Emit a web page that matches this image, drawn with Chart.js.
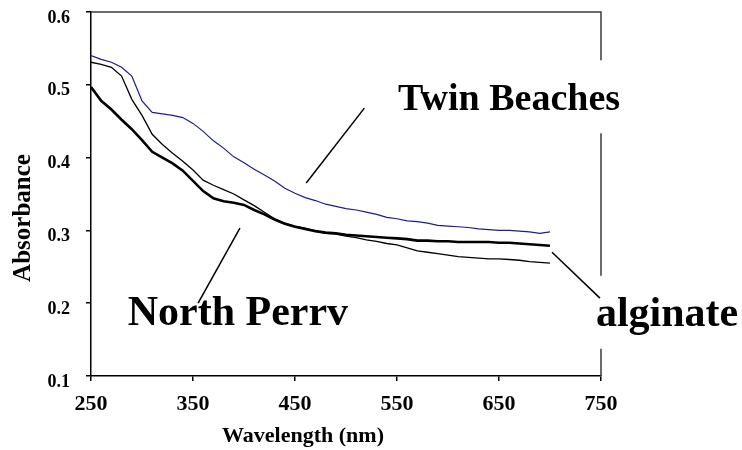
<!DOCTYPE html>
<html>
<head>
<meta charset="utf-8">
<script src="https://cdn.jsdelivr.net/npm/chart.js@4/dist/chart.umd.min.js"></script>
<style>
  html, body { margin: 0; padding: 0; background: #fff; }
  #wrap { width: 742px; height: 450px; }
</style>
</head>
<body>
<div id="wrap"><canvas id="myChart"></canvas></div>
<script>
// wavelength (nm) every 10 nm
const wavelengths = [250, 260, 270, 280, 290, 300, 310, 320, 330, 340, 350, 360, 370, 380, 390, 400,
  410, 420, 430, 440, 450, 460, 470, 480, 490, 500, 510, 520, 530, 540, 550, 560, 570, 580, 590, 600,
  610, 620, 630, 640, 650, 660, 670, 680, 690, 700];

const twinBeaches = [0.540, 0.535, 0.531, 0.524, 0.512, 0.478, 0.462, 0.460, 0.458, 0.455, 0.447, 0.436,
  0.423, 0.413, 0.401, 0.393, 0.384, 0.376, 0.368, 0.358, 0.351, 0.345, 0.341, 0.336, 0.333, 0.330,
  0.328, 0.325, 0.322, 0.318, 0.316, 0.313, 0.312, 0.310, 0.307, 0.306, 0.305, 0.304, 0.302, 0.301,
  0.300, 0.300, 0.299, 0.298, 0.296, 0.298];

const northPerry = [0.531, 0.528, 0.524, 0.512, 0.480, 0.458, 0.432, 0.418, 0.406, 0.395, 0.383, 0.369,
  0.362, 0.356, 0.350, 0.342, 0.334, 0.325, 0.316, 0.310, 0.306, 0.303, 0.299, 0.296, 0.295, 0.292,
  0.290, 0.287, 0.285, 0.282, 0.280, 0.276, 0.272, 0.270, 0.268, 0.266, 0.264, 0.263, 0.262, 0.261,
  0.261, 0.260, 0.259, 0.257, 0.256, 0.255];

const alginate = [0.497, 0.478, 0.466, 0.452, 0.439, 0.424, 0.408, 0.400, 0.392, 0.382, 0.368, 0.354,
  0.344, 0.340, 0.338, 0.335, 0.328, 0.322, 0.315, 0.309, 0.305, 0.302, 0.299, 0.297, 0.296, 0.294,
  0.293, 0.292, 0.291, 0.290, 0.289, 0.288, 0.286, 0.286, 0.285, 0.285, 0.284, 0.284, 0.284, 0.284,
  0.283, 0.283, 0.282, 0.281, 0.280, 0.279];

const xTicks = [250, 350, 450, 550, 650, 750];
const yTicks = [0.1, 0.2, 0.3, 0.4, 0.5, 0.6];

const serif = '"Liberation Serif", "Times New Roman", serif';

// callout labels (data coordinates) with their leader lines
const callouts = [
  { text: 'Twin Beaches', size: 38, x: 551, y: 0.465, line: [518, 0.468, 461, 0.365] },
  { text: 'North Perrv', size: 42, x: 286, y: 0.170, line: [396, 0.303, 355, 0.200] },
  { text: 'alginate', size: 42, x: 745, y: 0.169, line: [702, 0.270, 749, 0.207] }
];

function pts(vals) {
  return wavelengths.map((w, i) => ({ x: w, y: vals[i] }));
}

const decorPlugin = {
  id: 'decor',
  afterDatasetsDraw(chart) {
    const ctx = chart.ctx;
    const a = chart.chartArea;
    const xs = chart.scales.x, ys = chart.scales.y;
    ctx.save();
    // top and right frame
    ctx.strokeStyle = '#3a3a3a';
    ctx.lineWidth = 1.5;
    ctx.beginPath();
    ctx.moveTo(a.left, a.top);
    ctx.lineTo(a.right, a.top);
    ctx.lineTo(a.right, a.bottom);
    ctx.stroke();

    callouts.forEach(c => {
      const tx = xs.getPixelForValue(c.x);
      const ty = ys.getPixelForValue(c.y);
      ctx.font = 'bold ' + c.size + 'px ' + serif;
      const w = ctx.measureText(c.text).width;
      ctx.fillStyle = '#fff';
      ctx.fillRect(tx - 6, ty - 50, w + 12, 73);
      ctx.fillStyle = '#000';
      ctx.textBaseline = 'alphabetic';
      ctx.textAlign = 'left';
      ctx.fillText(c.text, tx, ty);
      ctx.strokeStyle = '#000';
      ctx.lineWidth = 1.5;
      ctx.beginPath();
      ctx.moveTo(xs.getPixelForValue(c.line[0]), ys.getPixelForValue(c.line[1]));
      ctx.lineTo(xs.getPixelForValue(c.line[2]), ys.getPixelForValue(c.line[3]));
      ctx.stroke();
    });

    // axis titles
    ctx.fillStyle = '#000';
    ctx.textAlign = 'center';
    ctx.textBaseline = 'alphabetic';
    ctx.font = 'bold 22px ' + serif;
    ctx.fillText('Wavelength (nm)', 303, 442);
    ctx.translate(30, 218);
    ctx.rotate(-Math.PI / 2);
    ctx.font = 'bold 25px ' + serif;
    ctx.fillText('Absorbance', 0, 0);
    ctx.restore();
  }
};

const config = {
  type: 'line',
  data: {
    datasets: [
      { label: 'Twin Beaches', data: pts(twinBeaches), borderColor: '#1c1c96', borderWidth: 1.2 },
      { label: 'North Perry', data: pts(northPerry), borderColor: '#000', borderWidth: 1.3 },
      { label: 'alginate', data: pts(alginate), borderColor: '#000', borderWidth: 2.6 }
    ]
  },
  options: {
    responsive: true,
    maintainAspectRatio: false,
    animation: false,
    elements: { point: { radius: 0 }, line: { tension: 0 } },
    layout: { padding: { left: 0, right: 141, top: 12, bottom: 0 } },
    plugins: { legend: { display: false }, tooltip: { enabled: false } },
    scales: {
      x: {
        type: 'linear',
        min: 250,
        max: 750,
        afterFit: s => { s.height = 74; s.paddingLeft = 0; s.paddingRight = 0; },
        afterBuildTicks: s => { s.ticks = xTicks.map(v => ({ value: v })); },
        grid: { drawOnChartArea: false, tickLength: 5, color: '#000', lineWidth: 1.5 },
        border: { color: '#000', width: 1.5 },
        ticks: { color: '#000', padding: 10, maxRotation: 0, font: { family: serif, size: 22, weight: 'bold' } }
      },
      y: {
        min: 0.1,
        max: 0.6,
        afterFit: s => { s.width = 91; s.paddingTop = 0; s.paddingBottom = 0; },
        afterBuildTicks: s => { s.ticks = yTicks.map(v => ({ value: v })); },
        grid: { drawOnChartArea: false, tickLength: 5, color: '#000', lineWidth: 1.5 },
        border: { color: '#000', width: 1.5 },
        ticks: {
          color: '#000', padding: 16, labelOffset: 6,
          font: { family: serif, size: 18, weight: 'bold' },
          callback: v => v.toFixed(1)
        }
      }
    }
  },
  plugins: [decorPlugin]
};

document.addEventListener('DOMContentLoaded', function () {
  new Chart(document.getElementById('myChart'), config);
});
</script>
</body>
</html>
